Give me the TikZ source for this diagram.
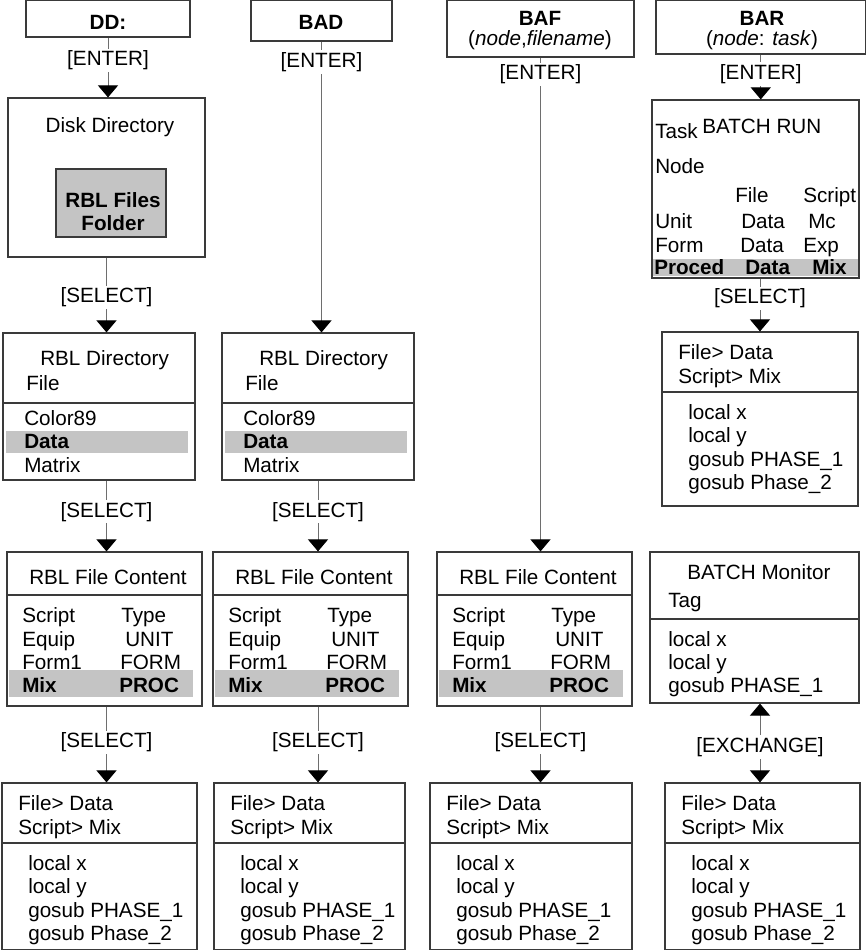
\documentclass[tikz,border=0pt]{standalone}
\usepackage{fontspec}
\setmainfont{Liberation Sans}
\usepackage{tikz}
\usetikzlibrary{arrows.meta,positioning,fit}
\definecolor{cline}{HTML}{6E6E6E}
\definecolor{cedge}{HTML}{3A3A3A}
\definecolor{cband}{HTML}{C4C4C4}
\newcommand{\boxfont}{\fontsize{15.5pt}{18pt}\selectfont}

\begin{document}
\begin{tikzpicture}[
    x=0.75pt, y=-0.75pt,
    box/.style={draw=cedge, line width=0.9pt, inner sep=0pt},
    folder/.style={box, fill=cband},
    rule/.style={draw=cedge, line width=0.8pt},
    band/.style={fill=cband},
    txt/.style={anchor=base west, inner sep=0pt, font=\boxfont},
    ctxt/.style={anchor=base, inner sep=0pt, font=\boxfont},
    lbl/.style={fill=white, inner sep=1.5pt, font=\boxfont},
    arr/.style={-{Triangle[length=9pt,width=15pt,color=black]}, draw=cline, line width=0.75pt},
    xarr/.style={{Triangle[length=9pt,width=15pt,color=black]}-{Triangle[length=9pt,width=15pt,color=black]}, draw=cline, line width=0.75pt}
]
\useasboundingbox (0,0) rectangle (866,951);

% command boxes
\node[box, fit={(26,0.5) (190,37)}] (dd) {};
\node[ctxt] (dd-t) at (108,29) {\textbf{DD:}};
\node[box, fit={(251,0.5) (392,41)}] (bad) {};
\node[ctxt] (bad-t) at (321,29) {\textbf{BAD}};
\node[box, fit={(447,0.5) (634,57)}] (baf) {};
\node[ctxt] (baf-t) at (540,25) {\textbf{BAF}};
\node[ctxt] (baf-a) at (540,45) {(\textit{node},\textit{filename})};
\node[box, fit={(656,0.5) (865.5,54)}] (bar) {};
\node[ctxt] (bar-t) at (762,25) {\textbf{BAR}};
\node[ctxt] (bar-a) at (762,45) {(\textit{node}: \textit{task})};

% disk directory
\node[box, fit={(8,98) (205,257)}] (disk) {};
\node[ctxt] (disk-t) at (110,132) {Disk Directory};
\node[folder, fit={(56,169) (166,237)}] (fold) {};
\node[ctxt] (fold-1) at (113,207) {\textbf{RBL Files}};
\node[ctxt] (fold-2) at (113,230) {\textbf{Folder}};

% rbl directory
\foreach \lx/\nm in {3/dir1, 222/dir2}{
  \fill[band] (\lx+3,431) rectangle (\lx+185,453);
  \node[box, fit={(\lx,333) (\lx+192,480)}] (\nm) {};
  \draw[rule] (\lx,403) -- (\lx+192,403);
  \node[txt] (\nm-t) at (\lx+37,365) {RBL Directory};
  \node[txt] (\nm-f) at (\lx+23,390) {File};
  \node[txt] (\nm-1) at (\lx+21,425) {Color89};
  \node[txt] (\nm-2) at (\lx+21,448) {\textbf{Data}};
  \node[txt] (\nm-3) at (\lx+21,472) {Matrix};
}

% rbl file content
\foreach \lx/\nm in {7/fc1, 213/fc2, 437/fc3}{
  \fill[band] (\lx+2,670) rectangle (\lx+186,697);
  \node[box, fit={(\lx,552) (\lx+195,706)}] (\nm) {};
  \draw[rule] (\lx,595) -- (\lx+195,595);
  \node[txt] (\nm-t) at (\lx+22,584) {RBL File Content};
  \node[txt] (\nm-a1) at (\lx+15,622) {Script};
  \node[txt] (\nm-b1) at (\lx+114,622) {Type};
  \node[txt] (\nm-a2) at (\lx+15,646) {Equip};
  \node[txt] (\nm-b2) at (\lx+118,646) {UNIT};
  \node[txt] (\nm-a3) at (\lx+15,669) {Form1};
  \node[txt] (\nm-b3) at (\lx+113,669) {FORM};
  \node[txt] (\nm-a4) at (\lx+15,692) {\textbf{Mix}};
  \node[txt] (\nm-b4) at (\lx+112,692) {\textbf{PROC}};
}

% script listings
\foreach \lx/\ty/\rx/\by/\nm in {2/783/197/949.5/bot1, 214/783/405/949.5/bot2,
    430/783/632/949.5/bot3, 665/783/860/949.5/bot4, 662/332/858/506/rbox}{
  \node[box, fit={(\lx,\ty) (\rx,\by)}] (\nm) {};
  \draw[rule] (\lx,\ty+60) -- (\rx,\ty+60);
  \node[txt] (\nm-f) at (\lx+16,\ty+27.5) {File> Data};
  \node[txt] (\nm-s) at (\lx+16,\ty+51) {Script> Mix};
  \node[txt] (\nm-1) at (\lx+26,\ty+87) {local x};
  \node[txt] (\nm-2) at (\lx+26,\ty+110) {local y};
  \node[txt] (\nm-3) at (\lx+26,\ty+134) {gosub PHASE\_1};
  \node[txt] (\nm-4) at (\lx+26,\ty+157) {gosub Phase\_2};
}

% batch run
\fill[band] (653,259) rectangle (858,276);
\node[box, fit={(652,100) (859,278)}] (run) {};
\foreach \x/\y/\s [count=\k] in {655/138/Task, 702/133/BATCH RUN, 655/173/Node,
    735/202/File, 803/202/Script, 655/228/Unit, 741/228/Data, 808/228/Mc,
    655/252/Form, 740/252/Data, 803/252/Exp,
    654/274/\textbf{Proced}, 745/274/\textbf{Data}, 812/274/\textbf{Mix}}
  \node[txt] (run-\k) at (\x,\y) {\s};

% batch monitor
\node[box, fit={(650,552) (859,703)}] (mon) {};
\draw[rule] (650,619) -- (859,619);
\node[txt] (mon-t) at (687,579) {BATCH Monitor};
\node[txt] (mon-g) at (668,607) {Tag};
\node[txt] (mon-1) at (668,646) {local x};
\node[txt] (mon-2) at (668,669) {local y};
\node[txt] (mon-3) at (668,692) {gosub PHASE\_1};

% column 1
\draw[arr] (dd.south) -- node[lbl, pos=.38] (e1) {[ENTER]} (dd.south |- disk.north);
\draw[arr] (disk.south) -- node[lbl, pos=.53] (s1) {[SELECT]} (disk.south |- dir1.north);
\draw[arr] (dir1.south -| disk) -- node[lbl, pos=.44] (s2) {[SELECT]} (disk |- fc1.north);
\draw[arr] (fc1.south -| disk) -- node[lbl, pos=.47] (s3) {[SELECT]} (disk |- bot1.north);
% column 2
\draw[arr] (bad.south) -- node[lbl, pos=.07] (e2) {[ENTER]} (bad.south |- dir2.north);
\draw[arr] (dir2.south) -- node[lbl, pos=.44] (s4) {[SELECT]} (dir2.south |- fc2.north);
\draw[arr] (fc2.south -| dir2) -- node[lbl, pos=.47] (s5) {[SELECT]} (dir2 |- bot2.north);
% column 3
\draw[arr] (baf.south) -- node[lbl, pos=.034] (e3) {[ENTER]} (baf.south |- fc3.north);
\draw[arr] (fc3.south -| baf) -- node[lbl, pos=.47] (s6) {[SELECT]} (baf |- bot3.north);
% column 4
\draw[arr] (bar.south) -- node[lbl, pos=.43] (e4) {[ENTER]} (bar.south |- run.north);
\draw[arr] (run.south -| rbox) -- node[lbl, pos=.37] (s7) {[SELECT]} (rbox.north);
\draw[xarr] (mon.south -| rbox) -- node[lbl, pos=.55] (ex) {[EXCHANGE]} (rbox |- bot4.north);
\end{tikzpicture}
\end{document}
